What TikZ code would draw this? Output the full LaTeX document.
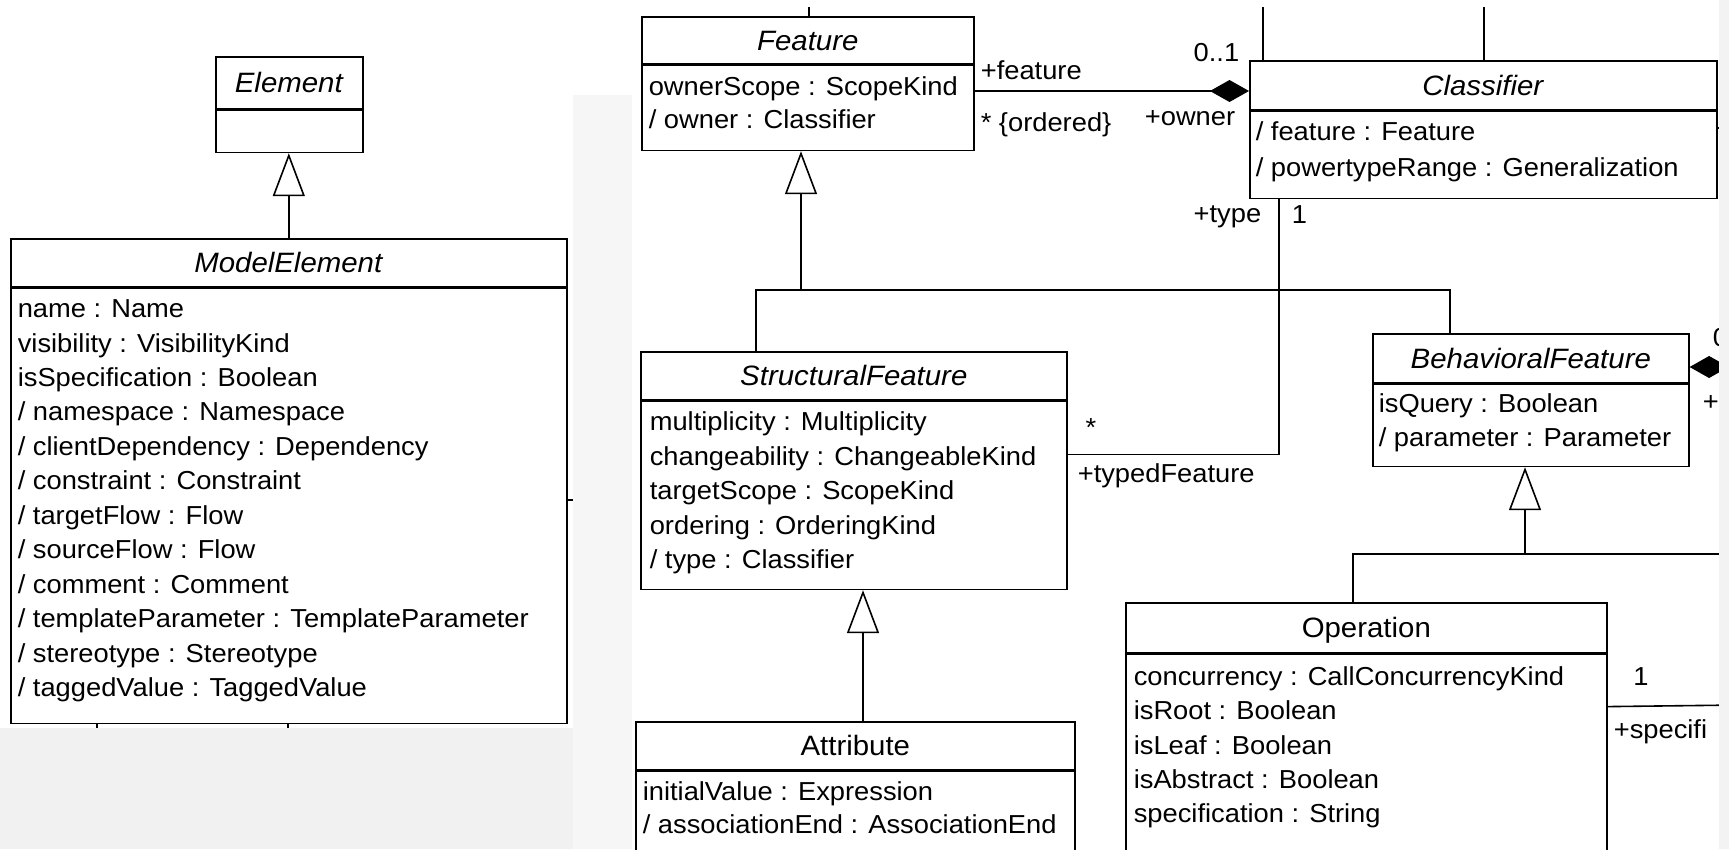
\documentclass[tikz,border=0pt]{standalone}
\usepackage{fontspec}
\setmainfont{Liberation Sans}[FakeStretch=1.05]
\usetikzlibrary{arrows.meta,calc}

\definecolor{panelgray}{HTML}{F1F1F1}
\definecolor{stripgray}{HTML}{F6F6F6}
\definecolor{edgegray}{HTML}{F3F3F3}

\newcommand\attrfont{\fontsize{26}{34}\selectfont}
\newcommand\titlefont{\fontsize{28}{34}\selectfont}

\begin{document}
\begin{tikzpicture}[
  x=1pt, y=-1pt,
  line width=1.6pt,
  classhead/.style={draw, anchor=north west, inner sep=0pt, font=\titlefont,
    text height=20pt, text depth=0pt},
  classbody/.style={draw, anchor=north west, inner sep=0pt},
  attr/.style={anchor=base west, inner sep=0pt, font=\attrfont},
  role/.style={inner sep=0pt, font=\attrfont},
  generalization/.style={-{Triangle[open, length=43pt, width=32pt]}},
  composition/.style={{Diamond[length=39pt, width=22pt]}-}
]
\useasboundingbox (0,0) rectangle (1729,849);
\clip (0,0) rectangle (1729,849);
% screenshot background
\fill[white] (0,0) rectangle (1729,849);
\fill[panelgray] (0,728) rectangle (573,849);
\fill[stripgray] (573,95) rectangle (632,849);

% left panel
\node[classhead, minimum width=147pt, minimum height=52pt] (elhead) at (215,56) {\textit{Element}};
\node[classbody, minimum width=147pt, minimum height=42pt] (elbody) at (elhead.south west) {};

\node[classhead, minimum width=556pt, minimum height=48pt] (mehead) at (10,238) {\textit{ModelElement}};
\node[classbody, minimum width=556pt, minimum height=435pt] (mebody) at (mehead.south west) {};
\foreach \txt [count=\i from 0] in {name : Name, visibility : VisibilityKind,
    isSpecification : Boolean, {/ namespace : Namespace},
    {/ clientDependency : Dependency}, {/ constraint : Constraint},
    {/ targetFlow : Flow}, {/ sourceFlow : Flow}, {/ comment : Comment},
    {/ templateParameter : TemplateParameter}, {/ stereotype : Stereotype},
    {/ taggedValue : TaggedValue}}
  \node[attr] (me\i) at ($(mebody.north west)+(7,30+34.45*\i)$) {\txt};

\draw[generalization] (mehead.north) -- (mehead.north |- elbody.south);
\coordinate (meright) at (573,500);
\coordinate (mefoot1) at (97,728);
\coordinate (mefoot2) at (288,728);
\draw (mebody.east |- meright) -- (meright);
\draw (mefoot1 |- mebody.south) -- (mefoot1);
\draw (mefoot2 |- mebody.south) -- (mefoot2);

% right panel
\node[classhead, minimum width=332pt, minimum height=47pt] (fhead) at (641,16) {\textit{Feature}};
\node[classbody, minimum width=332pt, minimum height=85pt] (fbody) at (fhead.south west) {};
\foreach \txt [count=\i from 0] in {ownerScope : ScopeKind, {/ owner : Classifier}}
  \node[attr] (f\i) at ($(fbody.north west)+(7,31+33*\i)$) {\txt};

\node[classhead, minimum width=467pt, minimum height=49pt] (clhead) at (1249,60) {\textit{Classifier}};
\node[classbody, minimum width=467pt, minimum height=87pt] (clbody) at (clhead.south west) {};
\foreach \txt [count=\i from 0] in {{/ feature : Feature}, {/ powertypeRange : Generalization}}
  \node[attr] (cl\i) at ($(clbody.north west)+(6,30+36*\i)$) {\txt};

\node[classhead, minimum width=426pt, minimum height=48pt] (sfhead) at (640,351) {\textit{StructuralFeature}};
\node[classbody, minimum width=426pt, minimum height=188pt] (sfbody) at (sfhead.south west) {};
\foreach \txt [count=\i from 0] in {multiplicity : Multiplicity,
    changeability : ChangeableKind, targetScope : ScopeKind,
    ordering : OrderingKind, {/ type : Classifier}}
  \node[attr] (sf\i) at ($(sfbody.north west)+(9,30+34.5*\i)$) {\txt};

\node[classhead, minimum width=316pt, minimum height=49pt] (bfhead) at (1372,333) {\textit{BehavioralFeature}};
\node[classbody, minimum width=316pt, minimum height=82pt] (bfbody) at (bfhead.south west) {};
\foreach \txt [count=\i from 0] in {isQuery : Boolean, {/ parameter : Parameter}}
  \node[attr] (bf\i) at ($(bfbody.north west)+(6,29+34*\i)$) {\txt};

\node[classhead, minimum width=439pt, minimum height=48pt] (athead) at (635,721) {Attribute};
\node[classbody, minimum width=439pt, minimum height=130pt] (atbody) at (athead.south west) {};
\foreach \txt [count=\i from 0] in {initialValue : Expression, {/ associationEnd : AssociationEnd}}
  \node[attr] (at\i) at ($(atbody.north west)+(7,30+33*\i)$) {\txt};

\node[classhead, minimum width=481pt, minimum height=50pt] (ophead) at (1125,602) {Operation};
\node[classbody, minimum width=481pt, minimum height=260pt] (opbody) at (ophead.south west) {};
\foreach \txt [count=\i from 0] in {concurrency : CallConcurrencyKind,
    isRoot : Boolean, isLeaf : Boolean, isAbstract : Boolean,
    specification : String}
  \node[attr] (op\i) at ($(opbody.north west)+(8,32+34.3*\i)$) {\txt};

% cut-off connectors at the top
\coordinate (ftop) at (809,7);
\coordinate (cltop1) at (1263,7);
\coordinate (cltop2) at (1484,7);
\coordinate (clright) at (1722,128);
\draw (ftop |- fhead.north) -- (ftop);
\draw (cltop1 |- clhead.north) -- (cltop1);
\draw (cltop2 |- clhead.north) -- (cltop2);
\draw (clbody.east |- clright) -- (clright);

% generalizations
\coordinate (fbar) at (801,290);
\draw[generalization] (fbar) -- (fbar |- fbody.south);
\draw ([xshift=116pt]sfhead.north west) |- (fbar) -| ([xshift=78pt]bfhead.north west);

\coordinate (atjoin) at ([xshift=228pt]athead.north west);
\draw[generalization] (atjoin) -- (atjoin |- sfbody.south);

\coordinate (bbar) at (1525,554);
\coordinate (bbarend) at (1740,554);
\draw[generalization] (bbar) -- (bbar |- bfbody.south);
\draw ([xshift=228pt]ophead.north west) |- (bbarend);

% associations
\draw[composition] ([yshift=-31pt]clhead.north west) coordinate (own) -- (own -| fbody.east);
\node[role, anchor=west] (lfeature) at (980,70) {+feature};
\node[role, anchor=west] (lordered) at (980,125) {* \{ordered\}};
\node[role, anchor=east] (lzeroone) at (1240,53) {0..1};
\node[role, anchor=east] (lowner) at (1236,118) {+owner};

\draw ([yshift=-54pt]sfbody.north east) -| ([xshift=30pt]clbody.south west);
\node[role] (lstar) at (1091,428) {*};
\node[role, anchor=west] (ltyped) at (1077,476) {+typedFeature};
\node[role, anchor=east] (ltype) at (1262,217) {+type};
\node[role, anchor=west] (lone) at (1291,215) {1};

\coordinate (bfownend) at (1740,367);
\draw[composition] (bfhead.east |- bfownend) -- (bfownend);
\node[role, anchor=west] (lbfzero) at (1712,338) {0};
\node[role, anchor=west] (lbfplus) at (1702,403) {+};

\coordinate (specend) at (1740,705);
\draw ([yshift=-53pt]opbody.north east) -- (specend);
\node[role] (lspecone) at (1641,677) {1};
\node[role, anchor=west] (lspec) at (1613,732) {+specifi};

% screenshot border on the right
\fill[edgegray] (1719,0) rectangle (1729,849);
\end{tikzpicture}
\end{document}
